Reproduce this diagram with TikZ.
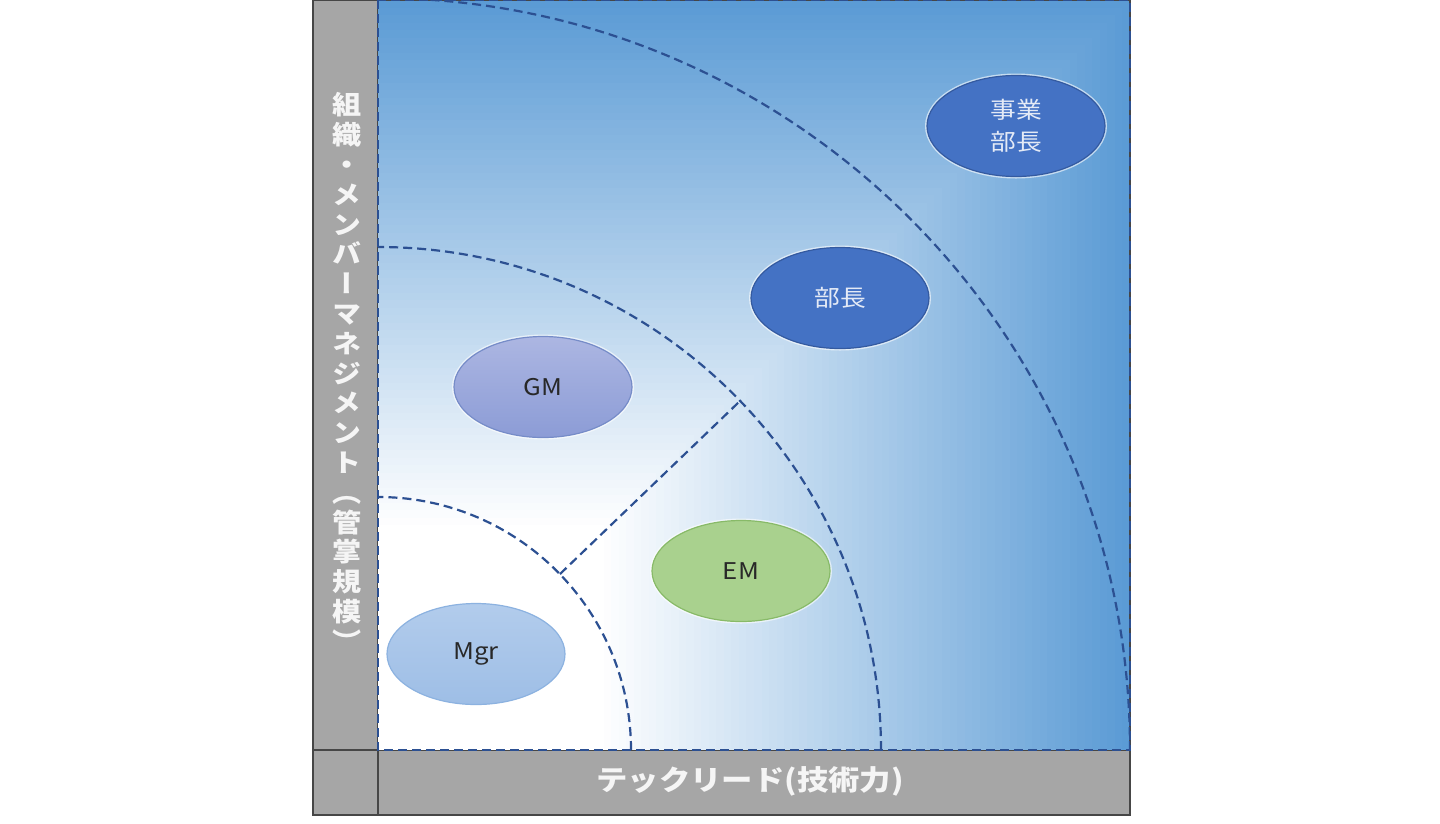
\documentclass[tikz,border=0pt]{standalone}
\usepackage{fontspec}
\setmainfont{Noto Sans CJK JP}
\newfontfamily\vjp[RawFeature=+vert]{Noto Sans CJK JP}
\usetikzlibrary{shapes.geometric}
\definecolor{gblue}{RGB}{91,155,213}
\definecolor{dashblue}{RGB}{44,80,146}
\definecolor{panel}{RGB}{166,166,166}
\definecolor{paneledge}{RGB}{70,70,70}
\definecolor{darkfill}{RGB}{68,114,196}
\definecolor{darkedge}{RGB}{52,90,160}
\definecolor{gmtop}{RGB}{172,182,226}
\definecolor{gmbot}{RGB}{140,156,214}
\definecolor{gmedge}{RGB}{118,140,200}
\definecolor{emfill}{RGB}{169,209,142}
\definecolor{emedge}{RGB}{136,186,104}
\definecolor{mgrtop}{RGB}{178,204,236}
\definecolor{mgrbot}{RGB}{158,190,230}
\definecolor{mgredge}{RGB}{140,178,224}
\definecolor{lighttext}{RGB}{228,234,246}
\definecolor{darktext}{RGB}{40,40,40}
\definecolor{paneltext}{RGB}{245,245,245}
\newcommand{\wide}[1]{\scalebox{1.12}[1]{#1}}
\tikzset{
  panelbox/.style={fill=panel, draw=paneledge, line width=1.2pt},
  dashline/.style={draw=dashblue, line width=2.2pt, dash pattern=on 9pt off 5pt},
  role/.style={ellipse, minimum width=178pt, minimum height=101pt, inner sep=0pt, line width=1.2pt, align=center,
    font=\fontsize{23}{32}\selectfont, preaction={draw=white, line width=4pt, draw opacity=0.6}},
  darkrole/.style={role, fill=darkfill, draw=darkedge, text=lighttext},
}
\begin{document}
\begin{tikzpicture}[x=1pt,y=-1pt]
\useasboundingbox (0,0) rectangle (1440,823);
\fill[white] (0,0) rectangle (1440,823);
% panels
\draw[panelbox] (313,0) rectangle (378,750);
\draw[panelbox] (313,750) rectangle (378,815);
\draw[panelbox] (378,750) rectangle (1130,815);
% gradient (corner style)
\foreach \i in {100,99,...,1}{
  \pgfmathsetmacro\p{max(0,min(100,(\i-30)/0.7))}
  \fill[gblue!\p!white] (378,750) rectangle ({378+7.52*\i},{750-7.5*\i});
}
% square outline
\draw[paneledge, line width=1.2pt] (378,0) -- (1130,0) -- (1130,750);
\draw[dashline] (378,0) rectangle (1130,750);
% quarter circles
\begin{scope}
  \clip (378,0) rectangle (1130,750);
  \foreach \r in {253,503,752}
    \draw[dashline] (378,750) ++(0:\r) arc[start angle=0, end angle=-90, radius=\r];
\end{scope}
\coordinate (p1) at (560,574);
\coordinate (p2) at (740,401);
\draw[dashline] (p1) -- (p2);
% roles
\node[darkrole] (jigyo) at (1016,126) {\wide{事業}\\\wide{部長}};
\node[darkrole] (bucho) at (840,298) {\wide{部長}};
\node[role, top color=gmtop, bottom color=gmbot, draw=gmedge, text=darktext] (gm) at (543,387) {\wide{GM}};
\node[role, fill=emfill, draw=emedge, text=darktext] (em) at (741,571) {\wide{EM}};
\node[role, top color=mgrtop, bottom color=mgrbot, draw=mgredge, text=darktext] (mgr) at (476,654) {\wide{Mgr}};
% axis labels
\node[align=center, text=paneltext, inner sep=0pt, font=\vjp\bfseries\fontsize{26}{29.8}\selectfont] (ylab) at (347,372)
  {\wide{組}\\\wide{織}\\\wide{・}\\\wide{メ}\\\wide{ン}\\\wide{バ}\\\wide{ー}\\\wide{マ}\\\wide{ネ}\\\wide{ジ}\\\wide{メ}\\\wide{ン}\\\wide{ト}\\\wide{（}\\\wide{管}\\\wide{掌}\\\wide{規}\\\wide{模}\\\wide{）}};
\node[text=paneltext, inner sep=0pt, font=\bfseries\fontsize{28}{30}\selectfont] (xlab) at (750,781) {\wide{テックリード(技術力)}};
\end{tikzpicture}
\end{document}
